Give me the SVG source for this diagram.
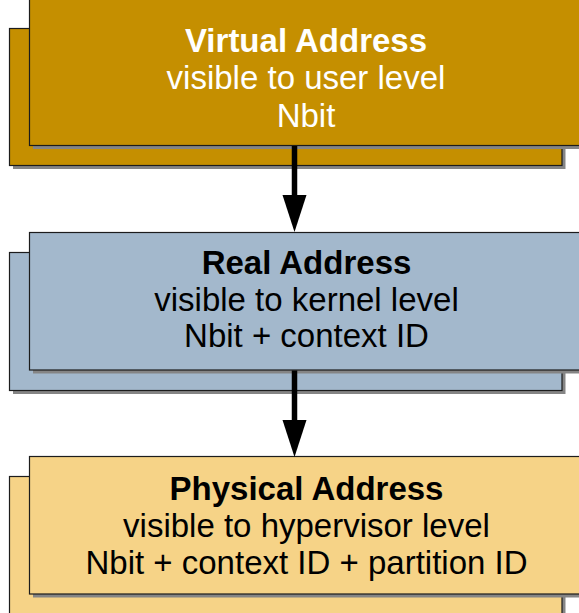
<svg xmlns="http://www.w3.org/2000/svg" width="579" height="613" viewBox="0 0 579 613">
<defs>
<style>
.sh{fill:#858585}
.b{stroke:#1c1c1c;stroke-width:1.2}
.v{fill:#C58F00}
.r{fill:#A3B8CC}
.p{fill:#F6D387}
text{font-family:"Liberation Sans",Arial,sans-serif;font-size:33px;text-anchor:middle}
.t{font-weight:bold}
.w{fill:#ffffff}
.k{fill:#000000}
.arr{stroke:#000;stroke-width:5.5;fill:none}
</style>
</defs>
<rect width="579" height="613" fill="#ffffff"/>
<g id="virtual">
<rect class="sh" x="13" y="32" width="552.5" height="137"/>
<rect class="v b" x="9.5" y="28.5" width="552.5" height="137"/>
<rect class="sh" x="33" y="-5" width="552.5" height="154"/>
<rect class="v b" x="29.5" y="-5" width="552.5" height="150.5"/>
<text class="w t" x="306" y="51.5">Virtual Address</text>
<text class="w" x="306" y="89">visible to user level</text>
<text class="w" x="306" y="126.5">Nbit</text>
</g>
<g id="real">
<rect class="sh" x="13" y="256" width="552.5" height="138"/>
<rect class="r b" x="9.5" y="252.5" width="552.5" height="138"/>
<rect class="sh" x="33" y="236" width="552.5" height="137.5"/>
<rect class="r b" x="29.5" y="232.5" width="552.5" height="137.5"/>
<text class="k t" x="306.5" y="274">Real Address</text>
<text class="k" x="306.5" y="310.5">visible to kernel level</text>
<text class="k" x="306.5" y="347">Nbit + context ID</text>
</g>
<g id="physical">
<rect class="sh" x="13" y="480" width="552.5" height="140"/>
<rect class="p b" x="9.5" y="476.5" width="552.5" height="140"/>
<rect class="sh" x="33" y="460" width="552.5" height="137.5"/>
<rect class="p b" x="29.5" y="456.5" width="552.5" height="137.5"/>
<text class="k t" x="306.5" y="500">Physical Address</text>
<text class="k" x="306.5" y="537">visible to hypervisor level</text>
<text class="k" x="306.5" y="574">Nbit + context ID + partition ID</text>
</g>
<g id="connectors">
<line class="arr" x1="294.5" y1="146" x2="294.5" y2="197"/>
<polygon points="282.5,195 306.5,195 294.5,232"/>
<line class="arr" x1="294.5" y1="370.5" x2="294.5" y2="422"/>
<polygon points="282.5,420 306.5,420 294.5,457"/>
</g>
</svg>
